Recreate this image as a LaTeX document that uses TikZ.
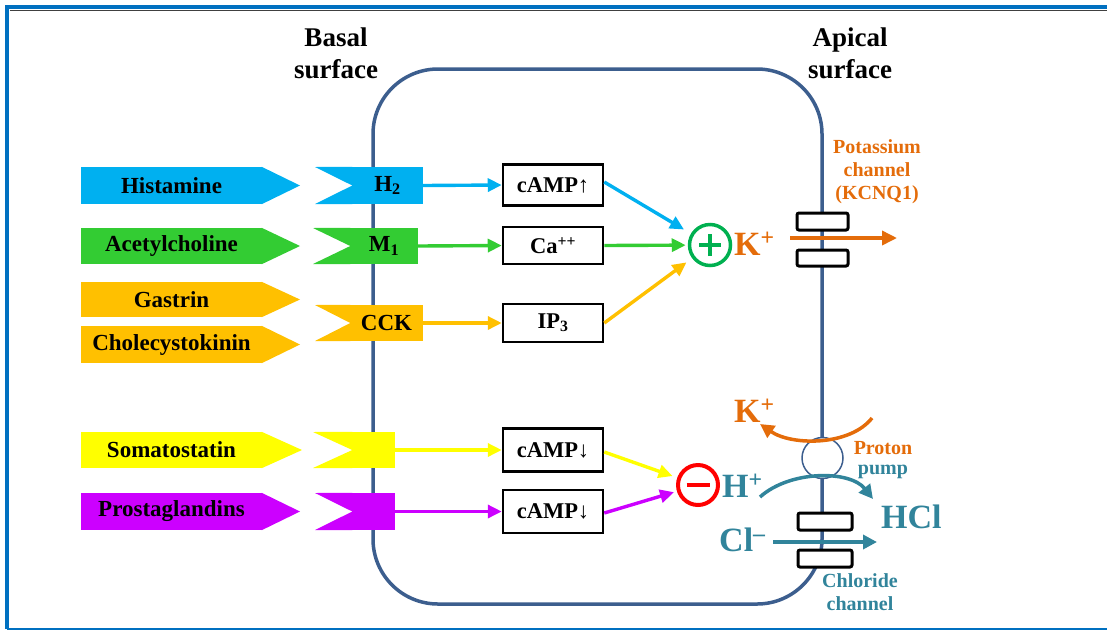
\documentclass[tikz,border=0pt]{standalone}
\usepackage{fontspec}
\setmainfont{Liberation Serif}
\usetikzlibrary{arrows.meta}
\definecolor{framec}{HTML}{0070C0}
\definecolor{membc}{HTML}{3C5E8E}
\definecolor{cyanc}{HTML}{00B0F0}
\definecolor{greenc}{HTML}{33CC33}
\definecolor{orangec}{HTML}{FFC000}
\definecolor{yellowc}{HTML}{FFFF00}
\definecolor{magc}{HTML}{CC00FF}
\definecolor{korange}{HTML}{E46C0A}
\definecolor{tealc}{HTML}{31849B}
\definecolor{plusg}{HTML}{00B050}
\definecolor{redc}{HTML}{FF0000}
\begin{document}
\begin{tikzpicture}[x=1pt,y=-1pt,
  lig/.style={inner sep=0pt, minimum width=181, font=\fontsize{23}{26}\selectfont\bfseries},
  rec/.style={inner sep=0pt, font=\fontsize{23}{26}\selectfont\bfseries},
  msgbox/.style={draw=black, line width=2.5pt, fill=white, inner sep=0pt, minimum width=100, minimum height=41, font=\fontsize{22.5}{26}\selectfont\bfseries},
  sig/.style={line width=3.4pt, -{Triangle[length=14,width=13]}},
  head/.style={align=center, font=\fontsize{27}{32}\selectfont\bfseries},
  ion/.style={font=\fontsize{34}{38}\selectfont\bfseries, inner sep=0pt},
  small/.style={align=center, font=\fontsize{20}{23}\selectfont\bfseries},
  chan/.style={draw=black, line width=3pt, fill=white, rounded corners=2pt, inner sep=0pt}
]
\path[use as bounding box] (0,0) rectangle (1107,630);
% frame
\draw[framec, line width=4pt] (7,628.5) -- (7,7) -- (1107,7);
\draw[framec, line width=2pt] (7,628.5) -- (1107,628.5);
\draw[black!75, line width=1.8pt] (9.5,10.5) -- (1107,10.5);

% headings
\node[head] (basal) at (336,53) {Basal\\surface};
\node[head] (apical) at (850,53) {Apical\\surface};

% cell membrane
\draw[membc, line width=3.5pt, rounded corners=65pt] (373,69) rectangle (822,604);

% ligands
\node[lig, fill=cyanc, minimum height=37] (hist) at (171.5,185.5) {Histamine};
\fill[cyanc] ([xshift=-0.5pt]hist.north east) -- (300,185.5) -- ([xshift=-0.5pt]hist.south east) -- cycle;
\node[lig, fill=greenc, minimum height=36] (ach) at (171.5,246) {Acetylcholine};
\fill[greenc] ([xshift=-0.5pt]ach.north east) -- (300,246) -- ([xshift=-0.5pt]ach.south east) -- cycle;
\node[lig, fill=orangec, minimum height=35] (gas) at (171.5,299.5) {Gastrin};
\fill[orangec] ([xshift=-0.5pt]gas.north east) -- (300,299.5) -- ([xshift=-0.5pt]gas.south east) -- cycle;
\node[lig, fill=orangec, minimum height=37] (cckl) at (171.5,344.5) {Cholecystokinin};
\fill[orangec] ([xshift=-0.5pt]cckl.north east) -- (300,344.5) -- ([xshift=-0.5pt]cckl.south east) -- cycle;
\node[lig, fill=yellowc, minimum height=36] (som) at (171.5,450) {Somatostatin};
\fill[yellowc] ([xshift=-0.5pt]som.north east) -- (302,450) -- ([xshift=-0.5pt]som.south east) -- cycle;
\node[lig, fill=magc, minimum height=37] (pg) at (171.5,511.5) {Prostaglandins};
\fill[magc] ([xshift=-0.5pt]pg.north east) -- (300,511.5) -- ([xshift=-0.5pt]pg.south east) -- cycle;

% receptors
\node[rec, fill=cyanc, minimum width=71, minimum height=37] (h2) at (387.5,185.5) {H\textsubscript{2}};
\fill[cyanc] (315,167) -- ([xshift=0.5pt]h2.north west) -- ([xshift=0.5pt]h2.west) -- cycle;
\fill[cyanc] (315,204) -- ([xshift=0.5pt]h2.south west) -- ([xshift=0.5pt]h2.west) -- cycle;
\node[rec, fill=greenc, minimum width=68, minimum height=36] (m1) at (384,246) {M\textsubscript{1}};
\fill[greenc] (313,228) -- ([xshift=0.5pt]m1.north west) -- ([xshift=0.5pt]m1.west) -- cycle;
\fill[greenc] (313,264) -- ([xshift=0.5pt]m1.south west) -- ([xshift=0.5pt]m1.west) -- cycle;
\node[rec, fill=orangec, minimum width=73, minimum height=36] (cck) at (386.5,323) {CCK};
\fill[orangec] (315,305) -- ([xshift=0.5pt]cck.north west) -- ([xshift=0.5pt]cck.west) -- cycle;
\fill[orangec] (315,341) -- ([xshift=0.5pt]cck.south west) -- ([xshift=0.5pt]cck.west) -- cycle;
\node[rec, fill=yellowc, minimum width=43, minimum height=36] (somr) at (373.5,450) {};
\fill[yellowc] (313,432) -- ([xshift=0.5pt]somr.north west) -- ([xshift=0.5pt]somr.west) -- cycle;
\fill[yellowc] (313,468) -- ([xshift=0.5pt]somr.south west) -- ([xshift=0.5pt]somr.west) -- cycle;
\node[rec, fill=magc, minimum width=43, minimum height=37] (pgr) at (373.5,511.5) {};
\fill[magc] (315,493) -- ([xshift=0.5pt]pgr.north west) -- ([xshift=0.5pt]pgr.west) -- cycle;
\fill[magc] (315,530) -- ([xshift=0.5pt]pgr.south west) -- ([xshift=0.5pt]pgr.west) -- cycle;

% second messengers
\node[msgbox] (camp1) at (553,185) {cAMP↑};
\node[msgbox, minimum height=37] (ca) at (553,245.5) {Ca\textsuperscript{++}};
\node[msgbox, minimum height=38] (ip3) at (553,323) {IP\textsubscript{3}};
\node[msgbox, minimum height=43] (camp2) at (553,450) {cAMP↓};
\node[msgbox, minimum height=43] (camp3) at (553,511.5) {cAMP↓};

\draw[sig, cyanc] (h2.east) -- (camp1.west);
\draw[sig, greenc] (m1.east) -- (ca.west);
\draw[sig, orangec] (cck.east) -- (ip3.west);
\draw[sig, yellowc] (somr.east) -- (camp2.west);
\draw[sig, magc] (pgr.east) -- (camp3.west);

% plus / minus
\node[draw=plusg, line width=3.5pt, circle, minimum size=41, inner sep=0pt] (plus) at (710,245) {};
\draw[plusg, line width=4pt] ([xshift=-11pt]plus.center) -- ([xshift=11pt]plus.center);
\draw[plusg, line width=4pt] ([yshift=-11pt]plus.center) -- ([yshift=11pt]plus.center);
\node[draw=redc, line width=4pt, circle, minimum size=40, inner sep=0pt] (minus) at (698,485) {};
\draw[redc, line width=4pt] ([xshift=-11.5pt]minus.center) -- ([xshift=11.5pt]minus.center);

\draw[sig, cyanc, shorten >=8pt] ([yshift=3pt]camp1.east) -- (plus);
\draw[sig, greenc, shorten >=2pt] (ca.east) -- (plus);
\draw[sig, orangec, shorten >=7pt] (ip3.east) -- (plus);
\draw[sig, yellowc, shorten >=5pt] ([yshift=-2pt]camp2.east) -- (minus);
\draw[sig, magc, shorten >=3pt] ([yshift=-1.5pt]camp3.east) -- (minus);

% potassium channel
\node[ion, korange, anchor=base west] (kplus) at (734,255) {K\textsuperscript{+}};
\node[chan, minimum width=51, minimum height=17] (kch1) at (822.5,221.5) {};
\node[chan, minimum width=51, minimum height=16] (kch2) at (822.5,258) {};
\coordinate (kin) at (790,238);
\coordinate (kout) at (897,238);
\draw[korange, line width=3.5pt, -{Triangle[length=15,width=14]}] (kin) -- (kout);
\node[small, korange] (kcnq) at (877,172) {Potassium\\channel\\(KCNQ1)};

% proton pump
\node[draw=membc, line width=1.5pt, fill=white, circle, minimum size=41, inner sep=0pt] (pump) at (822.5,458) {};
\node[ion, korange, anchor=base west] (k2) at (734,422) {K\textsuperscript{+}};
\coordinate (ks) at (872,418);
\coordinate (ke) at (760,424);
\draw[korange, line width=3.5pt, -{Triangle[length=14,width=14]}] (ks) .. controls (850,446) and (792,446) .. (ke);
\node[small, korange] (proton) at (883,448) {Proton};
\node[small, tealc] (pumplbl) at (883,472) {pump};
\node[ion, tealc, anchor=base west] (hplus) at (722,497) {H\textsuperscript{+}};
\coordinate (hs) at (760,497);
\coordinate (he) at (873,499);
\draw[tealc, line width=3.5pt, -{Triangle[length=14,width=14]}] (hs) .. controls (790,470) and (850,470) .. (he);
\node[ion, tealc, anchor=base west] (hcl) at (881,528) {HCl};

% chloride channel
\node[chan, minimum width=54, minimum height=17] (cl1) at (825,521.5) {};
\node[chan, minimum width=54, minimum height=17] (cl2) at (825,558.5) {};
\node[ion, tealc, anchor=base west] (clm) at (719,551) {Cl\textsuperscript{\textendash}};
\coordinate (cls) at (773,542);
\coordinate (cle) at (877,542);
\draw[tealc, line width=3.5pt, -{Triangle[length=14,width=14]}] (cls) -- (cle);
\node[small, tealc] (chl) at (860,592) {Chloride\\channel};
\end{tikzpicture}
\end{document}
